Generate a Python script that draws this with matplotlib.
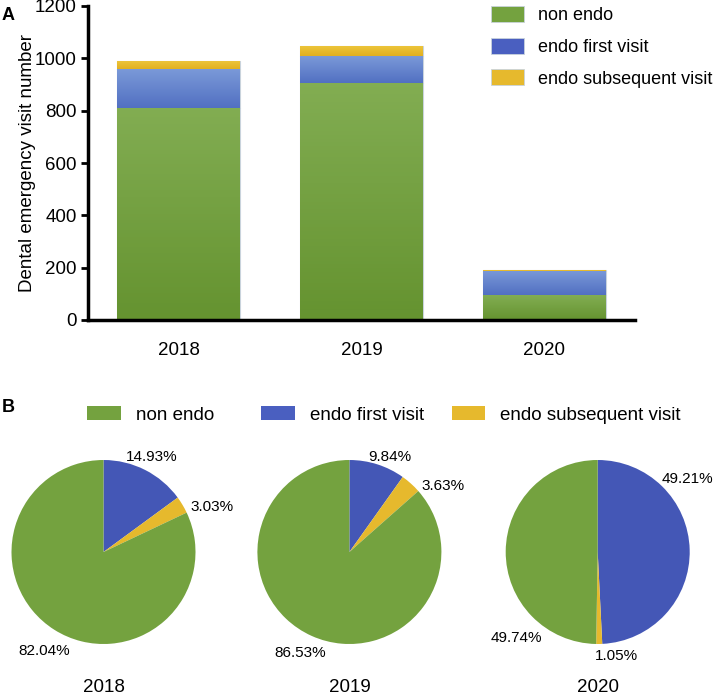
import numpy as np
import matplotlib
matplotlib.use("Agg")
import matplotlib.pyplot as plt
from matplotlib.patches import Patch
from matplotlib.colors import LinearSegmentedColormap

plt.rcParams['font.family'] = ['Liberation Sans', 'DejaVu Sans']

# ---------------- data ----------------
years = ["2018", "2019", "2020"]
categories = ["non endo", "endo first visit", "endo subsequent visit"]
non_endo = [812, 905, 95]
endo_first = [148, 103, 93]
endo_subsequent = [30, 38, 2]

pct_non_endo = [82.04, 86.53, 49.74]
pct_first = [14.93, 9.84, 49.21]
pct_subsequent = [3.03, 3.63, 1.05]

yticks = [0, 200, 400, 600, 800, 1000, 1200]

# ---------------- style ----------------
W, H = 721, 695
fig = plt.figure(figsize=(W / 100, H / 100), dpi=100)

green = "#74a23f"
blue = "#4457b6"
legend_blue = "#4a5fc0"
yellow = "#e6b92d"
grad = {
    "green": ("#82ad52", "#659330"),
    "blue": ("#7a99d8", "#5270c2"),
    "yellow": ("#ecc43a", "#e2b020"),
}


def fx(px):
    return px / W


def fy(py):
    return 1 - py / H


# ---------------- panel A ----------------
axA = fig.add_axes([fx(88), fy(320), fx(635 - 88), (320 - 6) / H])
x = np.arange(len(years))
bw = 0.672
bottom2 = np.array(non_endo)
bottom3 = bottom2 + np.array(endo_first)
b1 = axA.bar(x, non_endo, bw, color=green, edgecolor="#c9d3dc", linewidth=0.8)
b2 = axA.bar(x, endo_first, bw, bottom=bottom2, color=blue, edgecolor="#c9d3dc", linewidth=0.8)
b3 = axA.bar(x, endo_subsequent, bw, bottom=bottom3, color=yellow, edgecolor="#c9d3dc", linewidth=0.8)

for bars, key in [(b1, "green"), (b2, "blue"), (b3, "yellow")]:
    top_c, bot_c = grad[key]
    cmap = LinearSegmentedColormap.from_list(key, [bot_c, top_c])
    for bar in bars:
        x0, y0 = bar.get_x(), bar.get_y()
        w, h = bar.get_width(), bar.get_height()
        if h <= 0:
            continue
        g = np.linspace(0, 1, 64).reshape(-1, 1)
        im = axA.imshow(g, cmap=cmap, origin="lower", aspect="auto",
                        extent=[x0, x0 + w, y0, y0 + h], zorder=bar.get_zorder() + 0.1)
        im.set_clip_path(bar)

axA.set_xlim(-0.495, 2.495)
axA.set_ylim(0, 1200)
axA.set_yticks(yticks)
axA.set_yticklabels([str(t) for t in yticks], fontsize=13.5)
axA.set_xticks(x)
axA.set_xticklabels(years, fontsize=13.5)
axA.tick_params(axis="x", length=0, pad=16)
axA.tick_params(axis="y", length=5, width=2, direction="out", pad=3)
for s in ["top", "right"]:
    axA.spines[s].set_visible(False)
for s in ["left", "bottom"]:
    axA.spines[s].set_linewidth(2.5)
axA.set_ylabel("Dental emergency visit number", fontsize=13.5, labelpad=-1)
axA.set_zorder(1)

handlesA = [Patch(facecolor=c, edgecolor="#c9d3dc", linewidth=0.6) for c in (green, legend_blue, yellow)]
legA = fig.legend(handlesA, categories, loc="upper left",
                  bbox_to_anchor=(fx(491), fy(6)), frameon=False, fontsize=13,
                  handlelength=1.83, handleheight=1.0, labelspacing=0.74, handletextpad=0.78,
                  borderaxespad=0, borderpad=0)

fig.text(fx(2), fy(15), "A", fontsize=13, fontweight="bold", va="center", ha="left")
fig.text(fx(2), fy(408), "B", fontsize=13, fontweight="bold", va="center", ha="left")

# ---------------- panel B legend ----------------
legend_x = [87, 261, 451.5]
for cat, col, lxp in zip(categories, (green, legend_blue, yellow), legend_x):
    lg = fig.legend([Patch(facecolor=col, edgecolor="none")], [cat], loc="center left",
                    bbox_to_anchor=(fx(lxp), fy(415)), frameon=False, fontsize=13.5,
                    handlelength=1.8, handleheight=0.7, handletextpad=0.8,
                    borderaxespad=0, borderpad=0)

# ---------------- panel B pies ----------------
centers_x = [103.5, 349.4, 597.7]
center_y = 552
radius_px = 92
span = 1.6
label_pos = [
    [(0.52, 1.03), (1.18, 0.49), (-0.65, -1.08)],
    [(0.44, 1.03), (1.02, 0.72), (-0.54, -1.10)],
    [(0.98, 0.79), (0.20, -1.13), (-0.88, -0.93)],
]
for i, cx in enumerate(centers_x):
    s = radius_px * span
    ax = fig.add_axes([fx(cx - s), fy(center_y + s), 2 * s / W, 2 * s / H])
    vals = [pct_first[i], pct_subsequent[i], pct_non_endo[i]]
    ax.pie(vals, colors=[blue, yellow, green], startangle=90, counterclock=False,
           radius=1, wedgeprops=dict(linewidth=0))
    ax.set_xlim(-span, span)
    ax.set_ylim(-span, span)
    ax.set_aspect("equal")
    ax.axis("off")
    for v, (lx, ly) in zip(vals, label_pos[i]):
        ax.text(lx, ly, f"{v:.2f}%", fontsize=11, ha="center", va="center", clip_on=False)
    fig.text(fx(cx), fy(687), years[i], fontsize=13.5, ha="center", va="center")

fig.savefig("out.png", dpi=100)
